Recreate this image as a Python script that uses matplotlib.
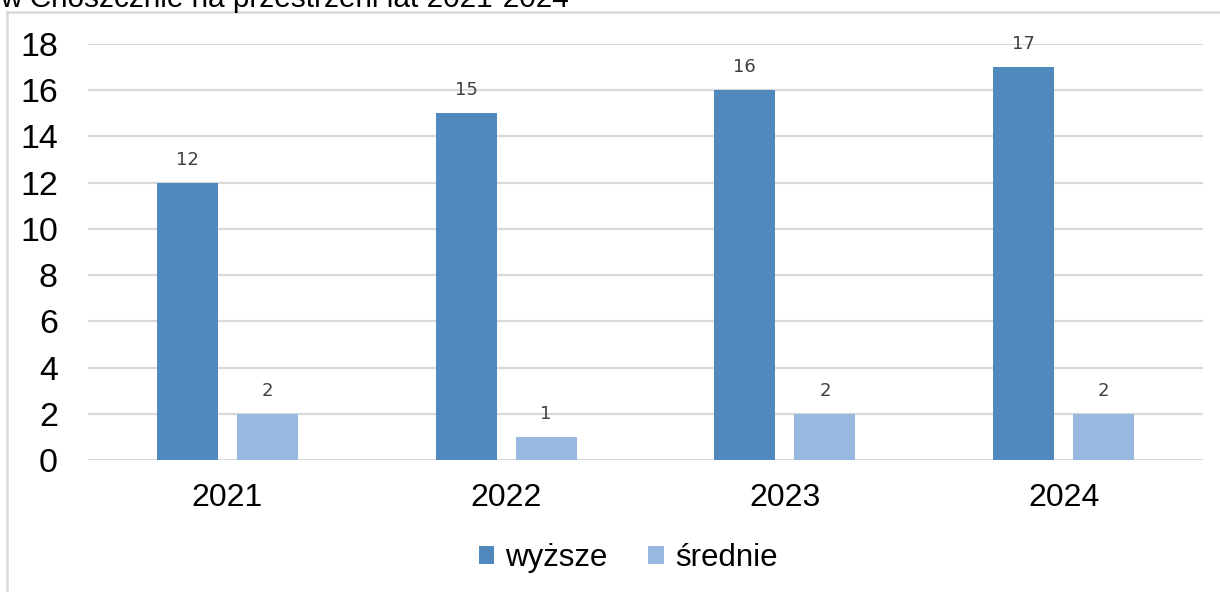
import matplotlib.pyplot as plt
from matplotlib.lines import Line2D
import numpy as np

plt.rcParams['font.family'] = ['Liberation Sans', 'DejaVu Sans']

years = ['2021', '2022', '2023', '2024']
wyzsze = [12, 15, 16, 17]
srednie = [2, 1, 2, 2]

c_wyz = '#4F89BD'
c_sre = '#98B9DF'
grid_c = '#D9D9D9'

fig = plt.figure(figsize=(12.2, 5.92), dpi=100)
ax = fig.add_axes([88 / 1220, 1 - 460 / 592, (1203 - 88) / 1220, (460 - 44) / 592])

x = np.arange(len(years))
w = 0.219
off = 0.1435
b1 = ax.bar(x - off, wyzsze, w, color=c_wyz, label='wyższe', zorder=3)
b2 = ax.bar(x + off, srednie, w, color=c_sre, label='średnie', zorder=3)

for bars, vals in ((b1, wyzsze), (b2, srednie)):
    for r, v in zip(bars, vals):
        ax.text(r.get_x() + r.get_width() / 2, v + 1.0, str(v), ha='center', va='center',
                fontsize=13, color='#404040', family=['DejaVu Sans'])

ax.set_xlim(-0.5, 3.5)
ax.set_ylim(0, 18)
ax.set_yticks(range(0, 19, 2))
ax.set_xticks(x)
ax.set_xticklabels(years)
ax.yaxis.grid(True, color=grid_c, linewidth=1.6, zorder=0)
ax.set_axisbelow(True)
for s in ax.spines.values():
    s.set_visible(False)
ax.tick_params(axis='both', length=0)
ax.tick_params(axis='x', labelsize=23, pad=16.5)
ax.tick_params(axis='y', labelsize=24.5, pad=21.6)
for t in ax.get_yticklabels():
    t.set_family(['Liberation Sans Narrow', 'Liberation Sans'])

fig.legend(loc='center', bbox_to_anchor=(628 / 1220, 1 - 558 / 592), ncol=2, frameon=False,
           fontsize=22.5, handlelength=0.5, handleheight=0.5, handletextpad=0.35, columnspacing=1.3)

# outer frame of the cropped screenshot
fig.add_artist(Line2D([7 / 1220, 7 / 1220], [0, 1 - 12 / 592], transform=fig.transFigure,
                      color=grid_c, linewidth=1.8))
fig.add_artist(Line2D([7 / 1220, 1], [1 - 12 / 592, 1 - 12 / 592], transform=fig.transFigure,
                      color=grid_c, linewidth=1.8))

# title cut off at top
fig.text(0, 1 - 7 / 592, 'w Choszcznie na przestrzeni lat 2021-2024', ha='left', va='baseline',
         fontsize=21.4, color='black')

fig.savefig('out.png', dpi=100)
